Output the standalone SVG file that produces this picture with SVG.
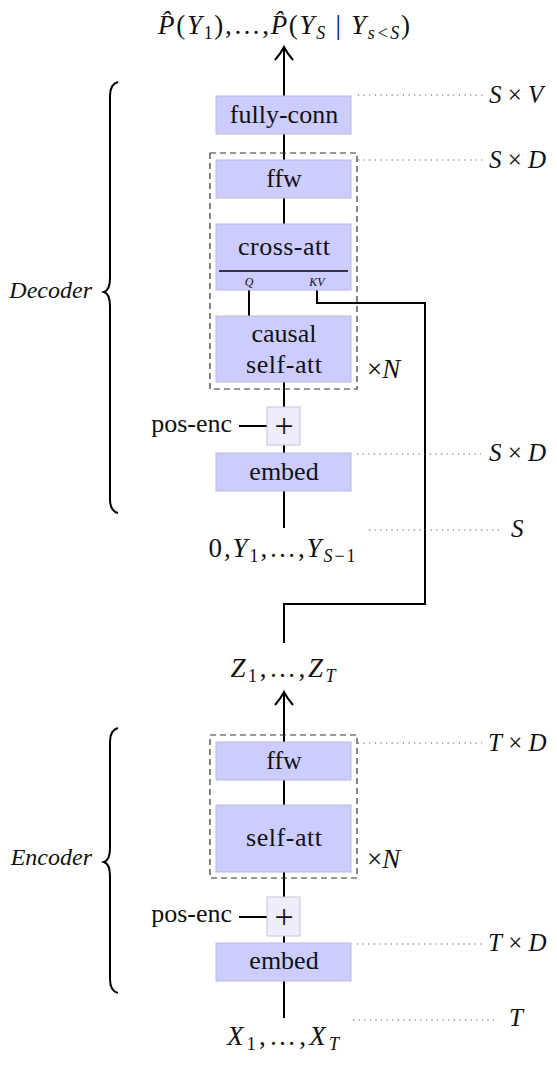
<svg xmlns="http://www.w3.org/2000/svg" width="557" height="1078" viewBox="0 0 557 1078">
<style>
.box{fill:#ccccff;stroke:#b9b9dc;stroke-width:1}
.plus{fill:#eeeefa;stroke:#c4c4d4;stroke-width:1}
.wire{stroke:#000;stroke-width:2;fill:none}
.dash{fill:none;stroke:#333;stroke-width:1.2;stroke-dasharray:6 4}
.dot{stroke:#555;stroke-width:1.2;stroke-dasharray:1.2 4.4;fill:none}
.brace{fill:none;stroke:#000;stroke-width:2}
text{font-family:'Liberation Serif',serif;fill:#111}
.lbl{font-size:26px;text-anchor:middle}
.pl{font-size:34px;text-anchor:middle;font-weight:300}
.m{font-size:27px}
.dim{font-size:25px}
.i{font-style:italic}
.sub{font-size:18px}
.tiny{font-size:12px;font-style:italic;text-anchor:middle}
</style>
<defs>
<path id="chev" d="M-9,13 Q-3,6 0,0 Q3,6 9,13" fill="none" stroke="#000" stroke-width="2"/>
</defs>

<g id="connectors">
<line class="wire" x1="284" y1="96" x2="284" y2="48"/>
<use href="#chev" x="284" y="47"/>
<line class="wire" x1="284" y1="134" x2="284" y2="160"/>
<line class="wire" x1="284" y1="198" x2="284" y2="224"/>
<line class="wire" x1="249" y1="290" x2="249" y2="316"/>
<path class="wire" d="M317,290 V303 H425 V604 H284 V643"/>
<line class="wire" x1="284" y1="382" x2="284" y2="407"/>
<line class="wire" x1="239" y1="426" x2="267" y2="426"/>
<line class="wire" x1="284" y1="445" x2="284" y2="453"/>
<line class="wire" x1="284" y1="491" x2="284" y2="528"/>
<line class="wire" x1="284" y1="742" x2="284" y2="693"/>
<use href="#chev" x="284" y="692"/>
<line class="wire" x1="284" y1="780" x2="284" y2="805"/>
<line class="wire" x1="284" y1="872" x2="284" y2="897"/>
<line class="wire" x1="239" y1="917" x2="267" y2="917"/>
<line class="wire" x1="284" y1="936" x2="284" y2="943"/>
<line class="wire" x1="284" y1="981" x2="284" y2="1018"/>
</g>

<g id="dims">
<line class="dot" x1="358" y1="95" x2="483" y2="95"/>
<text class="dim" x="489" y="103"><tspan class="i">S</tspan> × <tspan class="i">V</tspan></text>
<line class="dot" x1="358" y1="160" x2="483" y2="160"/>
<text class="dim" x="489" y="168"><tspan class="i">S</tspan> × <tspan class="i">D</tspan></text>
<line class="dot" x1="357" y1="454" x2="481" y2="454"/>
<text class="dim" x="489" y="461"><tspan class="i">S</tspan> × <tspan class="i">D</tspan></text>
<line class="dot" x1="369" y1="530" x2="502" y2="530"/>
<text class="dim i" x="511" y="537">S</text>
<line class="dot" x1="358" y1="743" x2="482" y2="743"/>
<text class="dim" x="488" y="751"><tspan class="i">T</tspan> × <tspan class="i">D</tspan></text>
<line class="dot" x1="357" y1="944" x2="483" y2="944"/>
<text class="dim" x="488" y="951"><tspan class="i">T</tspan> × <tspan class="i">D</tspan></text>
<line class="dot" x1="353" y1="1020" x2="498" y2="1020"/>
<text class="dim i" x="509" y="1026">T</text>
</g>

<g id="output">
<text class="m" x="284" y="34" text-anchor="middle" textLength="252"><tspan class="i">P̂</tspan>(<tspan class="i">Y</tspan><tspan class="sub" dy="5">1</tspan><tspan dy="-5">),…,</tspan><tspan class="i">P̂</tspan>(<tspan class="i">Y</tspan><tspan class="sub i" dy="5">S</tspan><tspan dy="-5"> | </tspan><tspan class="i">Y</tspan><tspan class="sub i" dy="5">s&lt;S</tspan><tspan dy="-5">)</tspan></text>
</g>

<g id="decoder">
<path class="brace" d="M118,82 Q110,84 110,96 V278 Q110,290 104,292 Q110,294 110,306 V499 Q110,511 118,513"/>
<text class="i" x="92" y="298" text-anchor="end" font-size="24">Decoder</text>
<rect class="dash" x="210" y="153" width="147" height="236"/>
<text class="m" x="367" y="378">×<tspan class="i">N</tspan></text>
</g>

<g id="fully-conn">
<rect class="box" x="216" y="96" width="135" height="38"/>
<text class="lbl" x="284" y="123">fully-conn</text>
</g>
<g id="dec-ffw">
<rect class="box" x="216" y="160" width="135" height="38"/>
<text class="lbl" x="284" y="187">ffw</text>
</g>
<g id="cross-att">
<rect class="box" x="216" y="224" width="135" height="66"/>
<text class="lbl" x="284" y="255" textLength="92">cross-att</text>
<line x1="219" y1="271" x2="348" y2="271" stroke="#000" stroke-width="1.5"/>
<text class="tiny" x="249" y="286">Q</text>
<text class="tiny" x="317" y="286">KV</text>
</g>
<g id="causal-self-att">
<rect class="box" x="216" y="316" width="135" height="66"/>
<text class="lbl" x="284" y="342">causal</text>
<text class="lbl" x="284" y="373" textLength="76">self-att</text>
</g>
<g id="dec-plus">
<rect class="plus" x="267" y="407" width="33" height="38"/>
<text class="pl" x="284" y="437">+</text>
<text x="232" y="432" font-size="26" text-anchor="end">pos-enc</text>
</g>
<g id="dec-embed">
<rect class="box" x="216" y="453" width="135" height="38"/>
<text class="lbl" x="284" y="480">embed</text>
</g>
<g id="dec-input">
<text class="m" x="282" y="557" text-anchor="middle" textLength="147">0,<tspan class="i">Y</tspan><tspan class="sub" dy="5">1</tspan><tspan dy="-5">,…,</tspan><tspan class="i">Y</tspan><tspan class="sub" dy="5"><tspan class="i">S</tspan>−1</tspan></text>
</g>

<g id="enc-output">
<text class="m" x="283" y="677" text-anchor="middle" textLength="105"><tspan class="i">Z</tspan><tspan class="sub" dy="5">1</tspan><tspan dy="-5">,…,</tspan><tspan class="i">Z</tspan><tspan class="sub i" dy="5">T</tspan></text>
</g>

<g id="encoder">
<path class="brace" d="M118,728 Q110,730 110,742 V848 Q110,860 104,862 Q110,864 110,876 V979 Q110,991 118,993"/>
<text class="i" x="92" y="865" text-anchor="end" font-size="24">Encoder</text>
<rect class="dash" x="210" y="735" width="147" height="143"/>
<text class="m" x="367" y="868">×<tspan class="i">N</tspan></text>
</g>
<g id="enc-ffw">
<rect class="box" x="216" y="742" width="135" height="38"/>
<text class="lbl" x="284" y="769">ffw</text>
</g>
<g id="enc-self-att">
<rect class="box" x="216" y="805" width="135" height="67"/>
<text class="lbl" x="284" y="846" textLength="76">self-att</text>
</g>
<g id="enc-plus">
<rect class="plus" x="267" y="897" width="33" height="39"/>
<text class="pl" x="284" y="928">+</text>
<text x="232" y="922" font-size="26" text-anchor="end">pos-enc</text>
</g>
<g id="enc-embed">
<rect class="box" x="216" y="943" width="135" height="38"/>
<text class="lbl" x="284" y="969">embed</text>
</g>
<g id="enc-input">
<text class="m" x="283" y="1045" text-anchor="middle" textLength="112"><tspan class="i">X</tspan><tspan class="sub" dy="5">1</tspan><tspan dy="-5">,…,</tspan><tspan class="i">X</tspan><tspan class="sub i" dy="5">T</tspan></text>
</g>
</svg>
